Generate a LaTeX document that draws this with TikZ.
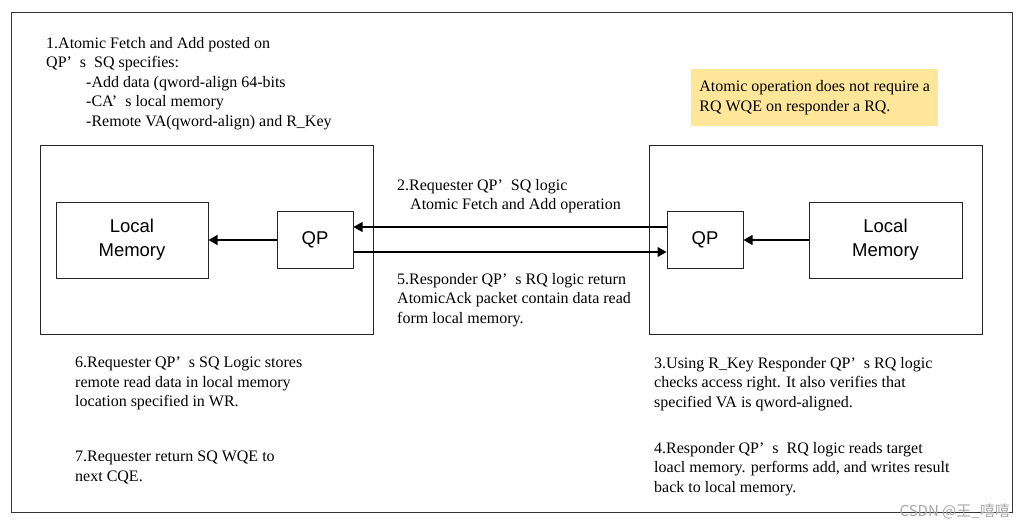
\documentclass[tikz,border=0pt]{standalone}
\usepackage{fontspec}
\setmainfont{Liberation Serif}
\newfontfamily\boxfont{Liberation Sans}
\newfontfamily\cjkfont{Noto Sans CJK SC}
\usetikzlibrary{arrows.meta}
\definecolor{hintyellow}{RGB}{255,230,153}
\newcommand{\fwq}{’\hspace{0.5em}}

\begin{document}
\begin{tikzpicture}[
  x=1pt, y=-1pt,
  host/.style={draw=black!85, line width=1pt},
  blk/.style={draw=black!85, line width=1pt, inner sep=0pt, align=center,
    font=\boxfont\fontsize{18.5}{24}\selectfont},
  note/.style={anchor=north west, inner sep=0pt, align=left,
    font=\fontsize{16}{19.5}\selectfont},
  hint/.style={fill=hintyellow, anchor=north west, align=left, inner sep=0pt,
    minimum width=247pt, minimum height=57pt, font=\fontsize{16}{19.5}\selectfont},
  conn/.style={black, line width=1.1pt, -{Triangle[length=9pt,width=10pt]}}]

\useasboundingbox (0,0) rectangle (1024,527);
\draw[black!80, line width=0.8pt] (11,12) rectangle (1012,512);

\draw[host] (40,145) rectangle (373,334);
\draw[host] (649,145) rectangle (982,334);

\node[blk, minimum width=152pt, minimum height=76pt] (memL) at (132,240) {Local\\Memory};
\node[blk, minimum width=76pt, minimum height=57pt] (qpL) at (315,240) {QP};
\node[blk, minimum width=76pt, minimum height=57pt] (qpR) at (705,240) {QP};
\node[blk, minimum width=153pt, minimum height=76pt] (memR) at (885.5,240) {Local\\Memory};

\draw[conn] (qpL.west) -- (memL.east);
\draw[conn] (memR.west) -- (qpR.east);
\draw[conn] ([yshift=13pt]qpR.west) -- ([yshift=13pt]qpL.east);
\draw[conn] ([yshift=-12pt]qpL.east) -- ([yshift=-12pt]qpR.west);

\node[note] (step1) at (46,37) {1.Atomic Fetch and Add posted on\\QP\fwq s\ \ SQ specifies:\\
  \hspace*{40pt}-Add data (qword-align 64-bits\\\hspace*{40pt}-CA\fwq s local memory\\
  \hspace*{40pt}-Remote VA(qword-align) and R\_Key};
\node[note] (step2) at (397,179) {2.Requester QP\fwq SQ logic\\\hspace*{13pt}Atomic Fetch and Add operation};
\node[note] (step5) at (397,273) {5.Responder QP\fwq s RQ logic return\\AtomicAck packet contain data read\\form local memory.};
\node[note] (step6) at (75,357) {6.Requester QP\fwq s SQ Logic stores\\remote read data in local memory\\location specified in WR.};
\node[note] (step7) at (75,451) {7.Requester return SQ WQE to\\next CQE.};
\node[note] (step3) at (654,357) {3.Using R\_Key Responder QP\fwq s RQ logic\\checks access right. It also verifies that\\specified VA is qword-aligned.};
\node[note] (step4) at (654,442) {4.Responder QP\fwq s\ \ RQ logic reads target\\loacl memory. performs add, and writes result\\back to local memory.};
\node[hint] (atomic) at (691,69) {Atomic operation does not require a\\RQ WQE on responder a RQ.};

\node[anchor=east, inner sep=0pt, black!35, font=\cjkfont\fontsize{15}{15}\selectfont] (mark) at (1010,511) {CSDN @王\_嘻嘻};
\end{tikzpicture}
\end{document}
